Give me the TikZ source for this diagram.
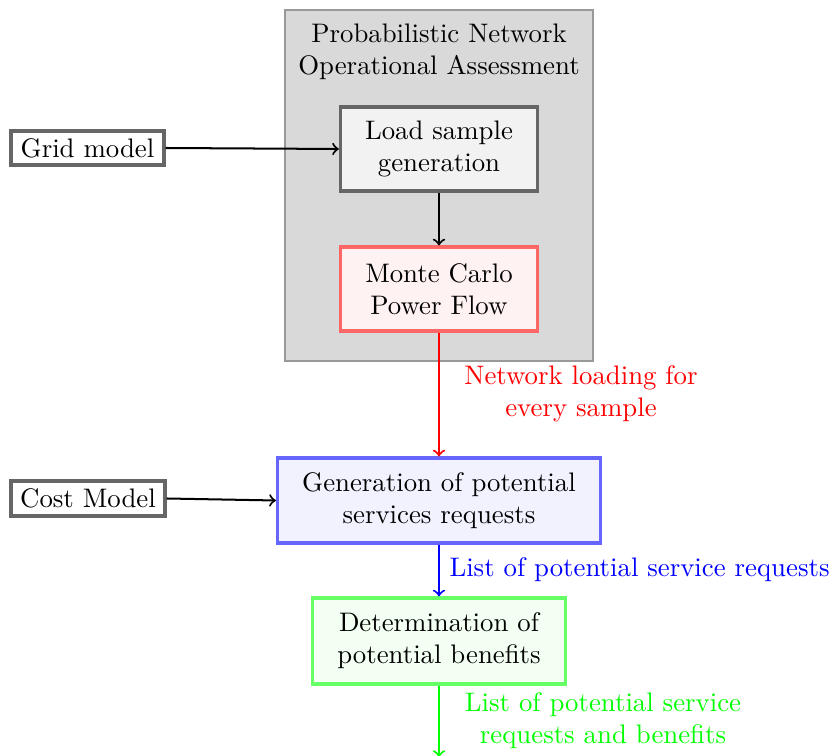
\documentclass[tikz,border=0pt]{standalone}
\usetikzlibrary{positioning}
\begin{document}
\begin{tikzpicture}[x=0.3731pt,y=-0.3731pt,
  block/.style={draw, rectangle, line width=1.2pt, align=center, inner sep=0pt},
  graybox/.style={block, draw=black!60, fill=black!5},
  redbox/.style={block, draw=red!60, fill=red!5},
  bluebox/.style={block, draw=blue!60, fill=blue!5},
  greenbox/.style={block, draw=green!60, fill=green!5},
  inputbox/.style={block, draw=black!60, fill=white},
  flow/.style={->, line width=0.75pt},
  lbl/.style={align=center, inner sep=0pt}]
\useasboundingbox (0,0) rectangle (835,756);

% Probabilistic assessment frame
\fill[black!15, draw=black!40, line width=0.5pt] (285,10) rectangle (593,361);
\node[lbl] (title) at (439,52) {Probabilistic Network\\Operational Assessment};

% Blocks
\node[graybox, minimum width=73.5pt, minimum height=31.3pt] (load) at (439,149) {Load sample\\generation};
\node[redbox, minimum width=73.5pt, minimum height=31.3pt] (mc) at (439,289) {Monte Carlo\\Power Flow};
\node[bluebox, minimum width=120.5pt, minimum height=31.7pt] (gen) at (439,500.5) {Generation of potential\\services requests};
\node[greenbox, minimum width=94.4pt, minimum height=32.1pt] (det) at (439,641) {Determination of\\potential benefits};

% Inputs
\node[inputbox, minimum width=57.1pt, minimum height=12.7pt] (grid) at (87.5,148) {Grid model};
\node[inputbox, minimum width=57.5pt, minimum height=13.1pt] (cost) at (88,498.5) {Cost Model};
\coordinate (out) at (439,757);

% Connectors
\draw[flow] (grid.east) -- (load.west);
\draw[flow] (load) -- (mc);
\draw[flow, red] (mc) -- (gen);
\draw[flow] (cost.east) -- (gen.west);
\draw[flow, blue] (gen) -- (det);
\draw[flow, green] (det) -- (out);

% Connector labels
\node[lbl, text=red] (l1) at (581,394) {Network loading for\\every sample};
\node[lbl, text=blue, anchor=west] (l2) at (449,570) {List of potential service requests};
\node[lbl, text=green] (l3) at (603,721) {List of potential service\\requests and benefits};
\end{tikzpicture}
\end{document}
